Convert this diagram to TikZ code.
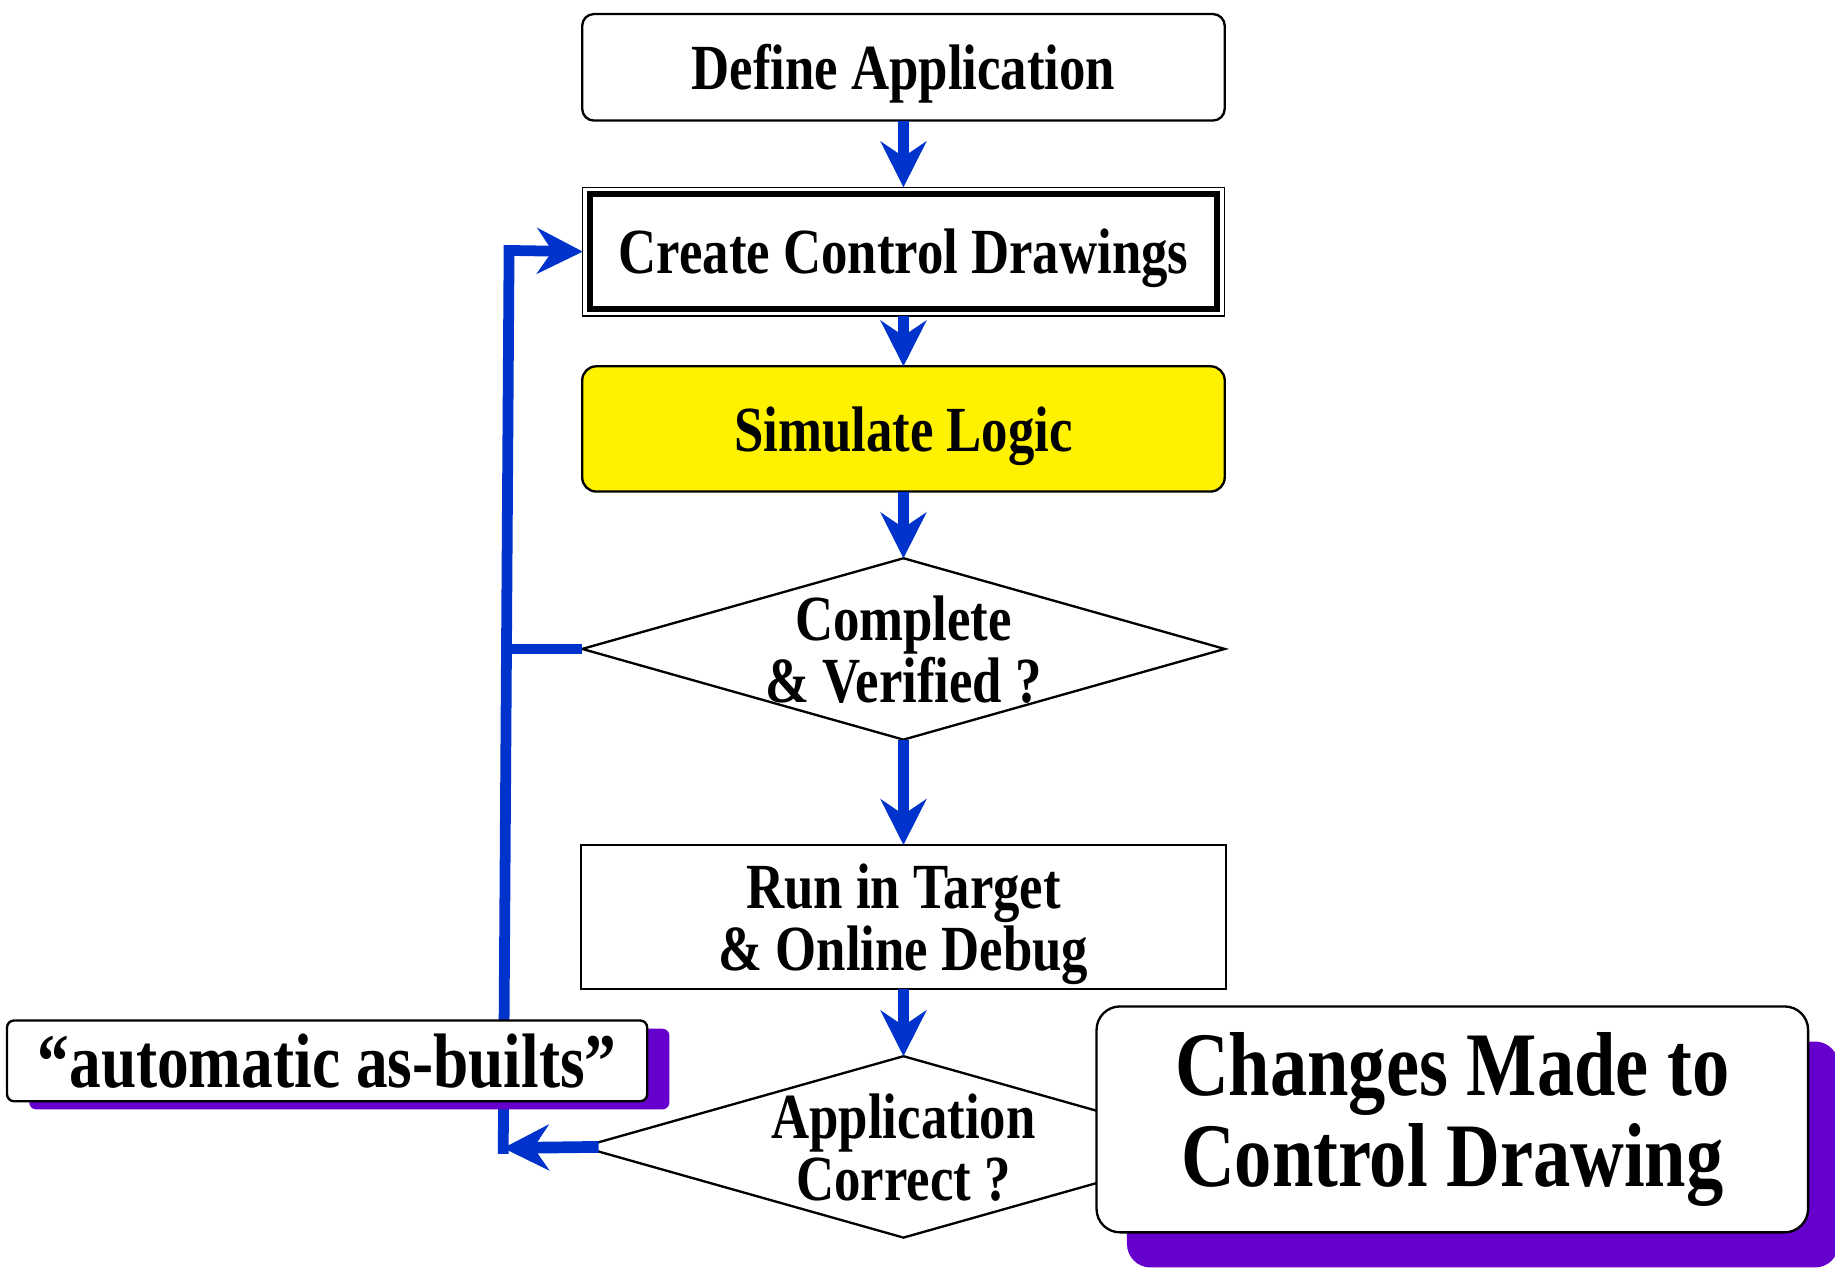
\documentclass[tikz,border=0pt]{standalone}
\usepackage{fontspec}
\setmainfont{Liberation Serif}[FakeStretch=0.82]
\usetikzlibrary{arrows.meta,shapes.geometric,shadows,calc}
\definecolor{flowblue}{RGB}{0,51,204}
\definecolor{shadowpurple}{RGB}{102,0,204}
\begin{document}
\begin{tikzpicture}[x=0.5pt,y=-0.5pt,
  boxfont/.style={font=\fontsize{27.5}{26.5}\selectfont\bfseries},
  box/.style={draw=black, line width=1pt, fill=white, inner sep=0pt, outer sep=0pt, align=center,
    boxfont, text depth=0pt},
  tip/.style={-{Stealth[length=19.5pt,width=19.5pt,inset=6.5pt]}},
  flow/.style={draw=flowblue, line width=5pt, tip},
  blueline/.style={draw=flowblue, line width=4.6pt, line join=miter},
  dec/.style={draw=black, line width=1pt, fill=white, inner sep=0pt, outer sep=0pt,
    diamond, minimum width=274.5pt, minimum height=77.5pt},
  dectext/.style={align=center, boxfont, text depth=0pt, inner sep=0pt},
]
\useasboundingbox (0,0) rectangle (1568,1084);

\node[box, rounded corners=5pt, minimum width=274.5pt, minimum height=45.5pt] (define) at (772,57.5) {Define Application};
\node[box, line width=0.5pt, minimum width=274pt, minimum height=55pt] (create) at (772,215) {Create Control Drawings};
\draw[line width=2.5pt] ([shift={(6,6)}]create.north west) rectangle ([shift={(-6,-6)}]create.south east);
\node[box, fill=yellow, rounded corners=6pt, minimum width=274.5pt, minimum height=53.5pt] (sim) at (772,366.5) {Simulate Logic};
\node[dec, label={[dectext]center:Complete\\\& Verified ?}] (dec1) at (772,554.5) {};
\node[box, minimum width=275.5pt, minimum height=61.5pt] (run) at (772,783.5) {Run in Target\\\& Online Debug};
\node[dec, label={[dectext]center:Application\\Correct ?}] (dec2) at (772,980) {};

\draw[flow] (define) -- (create);
\draw[flow] (create) -- (sim);
\draw[flow] (sim) -- (dec1);
\draw[flow] (dec1) -- (run);
\draw[flow] (run) -- (dec2);

\coordinate (cb) at (430,981);
\coordinate (ct) at (435,214);
\draw[flow] ([xshift=7pt]dec2.west) -- (cb);
\draw[blueline, tip] ([yshift=-2.5pt]cb) -- (ct) -- (create.west);
\draw[blueline] (dec1.west) -- ($(dec1.west -| ct)+(-4.6,0)$);

\node[box, rounded corners=3pt, minimum width=273.5pt, minimum height=34.5pt,
  font=\fontsize{33}{33}\selectfont\bfseries, text depth=,
  drop shadow={shadow xshift=9.5pt, shadow yshift=-3.5pt, fill=shadowpurple, opacity=1}]
  (auto) at (279.5,906.5) {“automatic as-builts”};

\node[box, rounded corners=10pt, minimum width=304pt, minimum height=96.5pt,
  font=\fontsize{38.8}{39}\selectfont\bfseries, text depth=,
  drop shadow={shadow xshift=13pt, shadow yshift=-15pt, fill=shadowpurple, opacity=1}]
  (changes) at (1241,956.5) {Changes Made to\\Control Drawing};
\end{tikzpicture}
\end{document}
